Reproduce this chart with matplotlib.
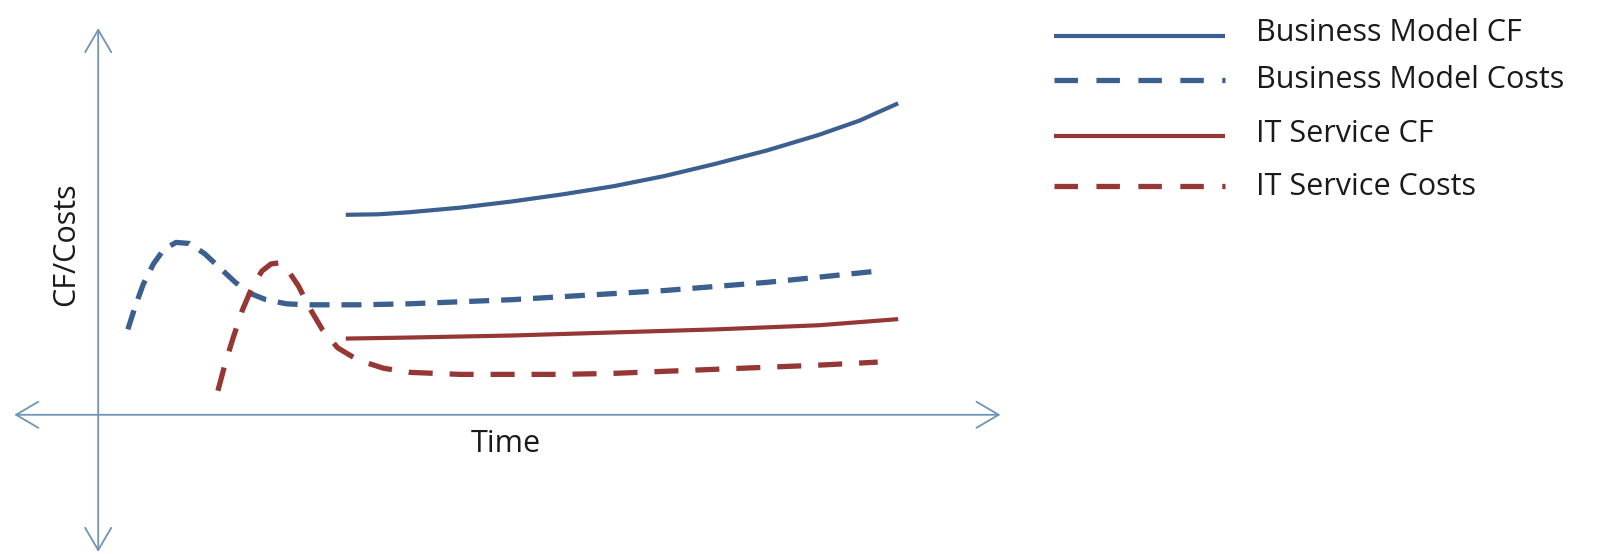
import matplotlib
matplotlib.use("Agg")
import matplotlib.pyplot as plt
from matplotlib.lines import Line2D

plt.rcParams['font.family'] = ['Open Sans', 'DejaVu Sans']
plt.rcParams['lines.scale_dashes'] = False

# ---- data (schematic: time vs value, arbitrary units) ----
bm_cf_t = [242, 274, 304, 354, 404, 454, 504, 554, 604, 654, 704, 744, 782]
bm_cf_v = [195.5, 196, 198, 202.5, 208.5, 215.5, 223.5, 233.5, 245.5, 258.5, 273.5, 287.5, 304.5]

bm_cost_t = [29, 36, 44, 54, 64, 76, 89, 104, 119, 134, 149, 164, 184, 204, 254, 304,
             354, 404, 454, 504, 554, 604, 654, 704, 762]
bm_cost_v = [83.5, 105.5, 127.5, 147.5, 161.5, 168.5, 167.5, 157.5, 143.5, 129.5, 118.5,
             112.5, 108.5, 107.5, 107.5, 108.5, 110.5, 112.5, 115.5, 118.5, 121.5, 125.5,
             129.5, 134.5, 140.5]

it_cf_t = [242, 304, 404, 504, 604, 704, 782]
it_cf_v = [74.5, 75.5, 77.5, 80.5, 83.5, 87.5, 93.5]

it_cost_t = [117, 124, 132, 141, 150, 160, 169, 177, 186, 196, 206, 219, 234, 254, 279,
             304, 354, 404, 454, 504, 554, 604, 654, 704, 762]
it_cost_v = [23.5, 49.5, 75.5, 102.5, 123.5, 140.5, 147.5, 148.5, 140.5, 125.5, 105.5,
             83.5, 65.5, 53.5, 45.5, 41.5, 39.5, 39.5, 39.5, 40.5, 42.5, 44.5, 46.5,
             48.5, 51.5]

labels = ["Business Model CF", "Business Model Costs", "IT Service CF", "IT Service Costs"]

BLUE = "#3b5f8e"
RED = "#953735"
AXC = "#6e94b8"
TXT = "#1a1a1a"

W, H = 1604, 554
fig = plt.figure(figsize=(W / 100, H / 100), dpi=100)
ax = fig.add_axes([0, 0, 1, 1])
ax.set_xlim(-96, 1568 - 96)
ax.set_ylim(405.5 - 541.6, 405.5)
ax.axis('off')

# axes with open arrows
arrow = dict(arrowstyle="<->,head_length=0.8,head_width=0.47",
             color=AXC, lw=1.3, shrinkA=0, shrinkB=0, mutation_scale=20)
ax.annotate("", xy=(882, 0), xytext=(-82, 0), arrowprops=arrow)
ax.annotate("", xy=(0, 378), xytext=(0, -134), arrowprops=arrow)

ax.text(398, -36, "Time", fontsize=22, ha='center', va='baseline', color=TXT)
ax.text(-31, 167, "CF/Costs", fontsize=22, ha='center', va='center',
        rotation=90, color=TXT)

lw_s = 3.0
lw_d = 3.8
ax.plot(bm_cf_t, bm_cf_v, color=BLUE, lw=lw_s, solid_capstyle='butt',
        solid_joinstyle='round')
ax.plot(bm_cost_t, bm_cost_v, color=BLUE, lw=lw_d, dashes=(14.4, 8.6),
        dash_capstyle='butt', dash_joinstyle='round')
ax.plot(it_cf_t, it_cf_v, color=RED, lw=lw_s, solid_capstyle='butt',
        solid_joinstyle='round')
ax.plot(it_cost_t, it_cost_v, color=RED, lw=lw_d, dashes=(17.3, 12.2),
        dash_capstyle='butt', dash_joinstyle='round')

# legend (manual, figure pixel coordinates)
leg_y = [36, 80, 136, 186]
txt_base = [41, 88, 142, 195]
styles = [dict(color=BLUE, lw=lw_s), dict(color=BLUE, lw=lw_d, dashes=(16.9, 13.3)),
          dict(color=RED, lw=lw_s), dict(color=RED, lw=lw_d, dashes=(16.9, 13.3))]
for ly, tb, lab, st in zip(leg_y, txt_base, labels, styles):
    fig.add_artist(Line2D([1054 / W, 1225 / W], [1 - ly / H, 1 - ly / H],
                          transform=fig.transFigure, solid_capstyle='butt',
                          dash_capstyle='butt', **st))
    fig.text(1256 / W, 1 - tb / H, lab, fontsize=22, ha='left', va='baseline',
             color=TXT)

fig.savefig("out.png", dpi=100)
